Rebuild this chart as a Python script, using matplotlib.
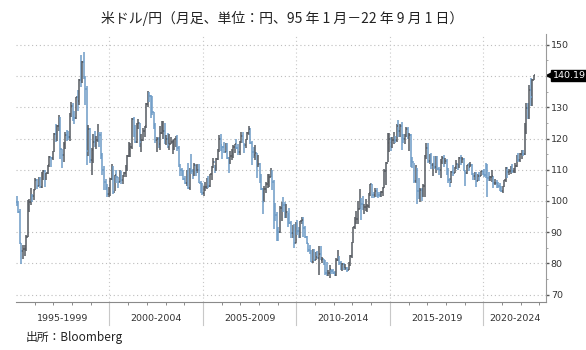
import numpy as np
import matplotlib
matplotlib.use("Agg")
from matplotlib import pyplot as plt
from matplotlib.ticker import MultipleLocator, FixedLocator, NullFormatter, FuncFormatter
import matplotlib.transforms as mtransforms

plt.rcParams['font.family'] = ['Noto Sans CJK JP', 'DejaVu Sans']

# monthly USD/JPY, Jan 1995 - Sep 2022 (close / high / low per year)
close = [
    [99.6, 96.6, 86.6, 84.1, 84.5, 84.7, 88.4, 97.5, 99.6, 101.9, 101.6, 103.5],
    [106.8, 104.8, 107.3, 104.5, 108.6, 109.7, 106.9, 108.9, 111.4, 114.0, 113.7, 115.9],
    [121.3, 120.2, 124.1, 127.0, 116.5, 114.6, 118.2, 121.0, 120.7, 120.4, 127.9, 130.5],
    [127.0, 126.5, 133.3, 132.1, 138.8, 138.4, 144.5, 141.4, 135.9, 116.0, 123.2, 113.1],
    [116.4, 119.0, 118.8, 119.5, 121.6, 121.1, 114.6, 110.0, 106.0, 104.1, 102.1, 102.2],
    [107.1, 110.2, 102.9, 108.2, 107.6, 106.2, 109.6, 106.7, 108.1, 108.9, 110.5, 114.4],
    [116.5, 117.3, 126.1, 123.7, 118.9, 124.7, 125.0, 118.8, 119.4, 122.4, 123.9, 131.0],
    [134.7, 133.5, 132.7, 128.5, 124.2, 119.5, 120.0, 118.3, 121.8, 122.4, 122.5, 118.8],
    [120.0, 117.8, 118.1, 119.0, 119.3, 119.7, 120.6, 116.9, 111.4, 110.0, 109.6, 107.1],
    [105.9, 109.1, 104.2, 110.4, 109.6, 108.7, 111.4, 109.2, 110.0, 105.9, 103.1, 102.6],
    [103.6, 104.6, 107.1, 104.9, 108.5, 110.8, 112.4, 111.2, 113.5, 116.4, 119.8, 117.8],
    [117.2, 115.8, 117.8, 113.9, 112.6, 114.4, 114.6, 117.4, 118.1, 116.9, 115.8, 119.0],
    [120.7, 118.5, 117.8, 119.6, 121.7, 123.2, 118.6, 115.8, 114.8, 115.3, 111.2, 111.7],
    [106.4, 103.7, 99.7, 103.9, 105.5, 106.2, 107.8, 108.8, 106.0, 98.5, 95.5, 90.6],
    [89.9, 97.6, 98.9, 98.6, 95.3, 96.4, 94.7, 93.0, 89.7, 90.1, 86.4, 93.1],
    [90.3, 89.0, 93.5, 94.0, 91.3, 88.4, 86.5, 84.2, 83.5, 80.4, 83.7, 81.1],
    [82.1, 81.8, 83.1, 81.2, 81.5, 80.6, 77.0, 76.6, 77.0, 78.2, 77.6, 76.9],
    [76.3, 81.2, 82.9, 80.0, 78.4, 79.8, 78.1, 78.4, 77.9, 79.8, 82.5, 86.7],
    [91.7, 92.6, 94.2, 97.5, 100.5, 99.1, 97.9, 98.2, 98.3, 98.4, 102.4, 105.3],
    [102.0, 101.8, 103.2, 102.2, 101.8, 101.3, 102.8, 104.1, 109.7, 112.3, 118.6, 119.8],
    [117.5, 119.6, 120.1, 119.4, 124.1, 122.5, 123.9, 121.2, 119.9, 120.6, 123.1, 120.2],
    [121.1, 112.7, 112.6, 106.5, 110.7, 103.2, 102.1, 103.4, 101.4, 104.8, 114.5, 117.0],
    [112.8, 112.8, 111.4, 111.5, 110.8, 112.4, 110.3, 110.0, 112.5, 113.7, 112.5, 112.7],
    [109.2, 106.7, 106.3, 109.3, 108.8, 110.8, 111.9, 111.0, 113.7, 112.9, 113.5, 109.7],
    [108.9, 111.4, 110.9, 111.4, 108.3, 107.9, 108.8, 106.3, 108.1, 108.0, 109.5, 108.6],
    [108.4, 107.9, 107.5, 107.2, 107.8, 107.9, 105.9, 105.9, 105.5, 104.7, 104.3, 103.3],
    [104.7, 106.6, 110.7, 109.3, 109.6, 111.1, 109.7, 110.0, 111.3, 114.0, 113.2, 115.1],
    [115.1, 115.0, 121.7, 129.8, 128.7, 135.7, 133.3, 138.9, 140.19],
]
high = [
    [101.5, 100.0, 97.3, 86.4, 85.8, 86.0, 89.2, 100.3, 100.5, 104.2, 102.3, 103.7],
    [107.2, 107.0, 107.6, 107.7, 109.2, 109.9, 110.0, 109.0, 111.6, 114.5, 114.1, 116.1],
    [121.8, 124.6, 124.3, 127.5, 126.9, 116.5, 119.0, 122.0, 122.6, 122.3, 128.1, 131.8],
    [131.5, 128.8, 133.3, 135.4, 139.0, 146.8, 144.8, 147.6, 139.9, 136.8, 124.3, 123.5],
    [116.8, 121.5, 122.5, 120.9, 124.8, 122.2, 122.2, 115.2, 111.1, 107.0, 105.4, 104.5],
    [107.3, 111.8, 111.1, 108.3, 109.8, 107.7, 109.8, 109.7, 108.3, 109.2, 111.4, 114.8],
    [119.0, 118.4, 126.5, 126.8, 124.2, 125.0, 126.2, 125.0, 121.6, 123.3, 124.1, 131.4],
    [135.2, 134.8, 133.9, 133.5, 128.6, 124.9, 120.4, 120.6, 124.0, 125.6, 125.5, 125.0],
    [121.0, 121.8, 121.4, 120.6, 119.5, 120.0, 120.7, 121.2, 117.5, 111.7, 110.5, 109.9],
    [107.9, 109.8, 112.1, 110.4, 114.9, 110.2, 112.0, 111.4, 111.7, 111.7, 106.3, 105.7],
    [104.8, 106.0, 107.5, 108.0, 108.6, 111.2, 113.7, 111.6, 113.7, 116.5, 121.0, 121.4],
    [117.6, 119.0, 118.7, 118.6, 114.0, 116.1, 116.5, 117.8, 118.2, 119.9, 118.2, 119.2],
    [122.2, 122.2, 118.5, 120.0, 122.2, 124.1, 123.5, 119.2, 117.3, 117.9, 115.5, 114.7],
    [112.0, 108.5, 104.3, 104.9, 106.1, 108.6, 108.6, 110.7, 109.9, 106.6, 99.2, 96.4],
    [91.7, 98.3, 99.5, 101.4, 99.5, 98.9, 96.1, 97.8, 93.6, 92.3, 92.7, 93.1],
    [93.8, 91.8, 93.7, 94.8, 94.9, 92.1, 88.8, 86.6, 86.0, 84.2, 84.5, 84.5],
    [83.7, 83.9, 85.5, 85.5, 82.0, 81.4, 81.0, 80.3, 77.9, 79.5, 78.3, 78.3],
    [77.6, 81.7, 84.2, 82.3, 80.6, 80.2, 80.1, 79.7, 78.7, 80.4, 82.8, 86.8],
    [91.8, 94.8, 96.7, 99.9, 103.7, 100.9, 101.5, 99.1, 100.6, 99.0, 102.6, 105.4],
    [105.4, 102.9, 104.1, 104.1, 102.8, 102.8, 103.2, 104.5, 110.1, 112.5, 121.9, 121.9],
    [120.5, 120.5, 122.0, 120.8, 124.5, 125.9, 124.6, 125.3, 121.3, 121.5, 123.8, 123.7],
    [121.7, 121.5, 114.1, 112.0, 111.5, 110.5, 107.5, 104.3, 104.1, 105.5, 114.8, 118.7],
    [118.6, 114.9, 115.5, 112.2, 114.4, 114.5, 114.5, 110.9, 113.3, 114.5, 114.7, 113.8],
    [113.4, 110.5, 107.3, 109.5, 111.4, 111.0, 113.2, 111.8, 114.0, 114.6, 114.0, 113.7],
    [109.9, 111.5, 112.1, 112.4, 111.7, 108.8, 109.3, 109.3, 108.5, 109.3, 109.7, 109.7],
    [110.3, 112.2, 111.7, 109.4, 108.1, 109.9, 107.9, 107.0, 106.6, 106.1, 105.7, 104.7],
    [104.9, 106.7, 110.9, 110.9, 110.2, 111.1, 111.7, 110.5, 112.1, 114.7, 115.5, 115.2],
    [116.4, 116.3, 125.1, 131.3, 131.3, 137.0, 139.4, 139.1, 140.2],
]
low = [
    [98.5, 96.1, 86.3, 79.8, 81.3, 82.3, 84.0, 88.3, 96.6, 98.6, 99.6, 100.4],
    [103.5, 103.8, 104.7, 104.1, 104.0, 106.8, 104.6, 106.8, 108.6, 110.9, 110.9, 113.0],
    [115.8, 119.0, 119.3, 122.4, 113.3, 110.6, 112.6, 116.5, 119.2, 119.5, 119.3, 126.9],
    [125.6, 124.8, 126.3, 128.9, 130.8, 136.5, 137.7, 139.0, 130.7, 111.6, 114.4, 112.2],
    [108.3, 112.3, 117.3, 116.6, 118.8, 117.3, 113.5, 108.3, 103.6, 103.4, 101.3, 101.3],
    [101.6, 106.8, 102.1, 103.2, 105.9, 104.0, 106.1, 105.5, 105.3, 107.6, 107.7, 109.7],
    [114.0, 114.0, 116.6, 120.4, 118.5, 118.4, 123.2, 117.4, 115.8, 119.2, 120.4, 123.5],
    [130.1, 131.8, 126.6, 127.6, 123.1, 118.5, 115.6, 116.8, 116.3, 121.3, 119.8, 118.3],
    [117.8, 116.8, 116.4, 118.1, 115.0, 116.3, 117.4, 116.1, 110.9, 107.9, 107.9, 106.8],
    [105.4, 104.8, 103.8, 103.4, 108.6, 106.9, 108.0, 108.1, 109.0, 105.7, 102.5, 101.8],
    [101.7, 103.1, 103.7, 104.2, 104.5, 106.6, 110.5, 108.8, 109.6, 113.0, 115.8, 115.9],
    [113.4, 115.3, 115.8, 113.3, 108.9, 111.7, 113.1, 113.7, 115.4, 116.7, 114.8, 114.7],
    [118.6, 118.4, 115.2, 117.0, 119.4, 121.2, 118.3, 111.6, 113.7, 113.2, 107.2, 110.9],
    [105.6, 103.4, 95.8, 99.7, 102.6, 104.0, 104.4, 107.7, 103.5, 90.9, 93.6, 87.2],
    [87.1, 89.7, 93.6, 96.5, 94.5, 94.4, 91.7, 92.6, 88.2, 88.0, 84.8, 86.4],
    [89.2, 88.2, 88.2, 92.7, 88.6, 88.2, 86.3, 83.6, 82.9, 80.4, 80.2, 80.8],
    [81.0, 81.6, 76.3, 81.0, 80.2, 79.6, 76.3, 75.9, 75.9, 75.4, 76.6, 76.6],
    [76.1, 76.1, 80.9, 79.6, 78.0, 77.7, 77.9, 78.0, 77.1, 77.9, 79.1, 81.7],
    [86.5, 90.9, 92.6, 92.6, 97.3, 93.8, 97.2, 95.8, 96.9, 96.6, 97.6, 101.6],
    [100.8, 100.8, 101.2, 101.4, 100.8, 101.1, 101.1, 101.5, 104.0, 105.2, 112.4, 115.6],
    [115.9, 116.9, 118.3, 118.5, 118.9, 120.4, 120.4, 116.2, 118.6, 118.1, 120.6, 119.9],
    [115.9, 110.9, 110.7, 105.6, 105.6, 99.0, 100.7, 99.5, 100.1, 101.2, 101.2, 113.5],
    [112.1, 111.7, 110.1, 108.1, 110.2, 108.8, 110.0, 108.3, 107.3, 111.7, 110.8, 111.9],
    [108.3, 105.6, 104.6, 105.9, 108.1, 108.8, 110.3, 109.8, 110.4, 111.4, 112.3, 109.6],
    [104.9, 108.5, 109.7, 110.8, 108.3, 106.8, 106.8, 104.5, 106.5, 106.5, 107.9, 108.4],
    [107.7, 107.5, 101.2, 106.4, 106.3, 106.1, 104.2, 105.1, 104.0, 104.0, 103.2, 102.9],
    [102.6, 104.4, 106.0, 107.5, 108.3, 108.6, 109.1, 109.1, 109.1, 110.8, 112.5, 112.6],
    [113.5, 114.4, 114.7, 121.3, 126.4, 126.4, 130.4, 130.4, 138.9],
]
first_open = 99.7
period_labels = ['1995-1999', '2000-2004', '2005-2009', '2010-2014', '2015-2019', '2020-2024']
period_starts = [1995, 2000, 2005, 2010, 2015, 2020]

c = np.concatenate([np.array(r) for r in close])
h = np.concatenate([np.array(r) for r in high])
l = np.concatenate([np.array(r) for r in low])
o = np.concatenate([[first_open], c[:-1]])
t = 1995 + (np.arange(len(c)) + 0.5) / 12

xmin, xmax = 1995.0, 2023.35

fig = plt.figure(figsize=(5.86, 3.5), dpi=100)
ax = fig.add_axes([0.0273, 0.137, 0.9044, 0.766])

up = c >= o
cols = np.where(up, '#555a60', '#6d9bc6')
ax.vlines(t, l, h, colors=cols, lw=1.1)
w = 0.035
ax.hlines(o, t - w, t, colors=cols, lw=1.1)
ax.hlines(c, t, t + w, colors=cols, lw=1.1)

ax.set_xlim(xmin, xmax)
ax.set_ylim(67.6, 153.5)

# grid
for y in range(70, 151, 10):
    ax.axhline(y, color='#bdbdbd', lw=0.8, ls=(0, (1, 2.5)), zorder=0)
for x in period_starts[1:]:
    ax.axvline(x, color='#c8c8c8', lw=0.8, ls=(0, (1, 2.5)), zorder=0)

for s in ['top', 'left']:
    ax.spines[s].set_visible(False)
ax.spines['bottom'].set_color('#8a8a8a')
ax.spines['right'].set_color('#9a9a9a')

last = c[-1]

# right axis; the last-value tag sits where the 140 label would be
ax.yaxis.tick_right()
ax.yaxis.set_major_locator(MultipleLocator(10))
ax.yaxis.set_minor_locator(MultipleLocator(5))
ax.yaxis.set_major_formatter(FuncFormatter(lambda v, p: '' if abs(v - last) < 3 else f'{v:.0f}'))
ax.tick_params(axis='y', which='major', length=2.5, width=1.0, color='#555',
               labelsize=6.8, labelcolor='#333', pad=1)
ax.tick_params(axis='y', which='minor', length=1.5, width=0.6, color='#999')
for lab in ax.get_yticklabels():
    lab.set_family('DejaVu Sans')

# bottom axis: a small tick each year, period labels below
ax.xaxis.set_major_locator(FixedLocator([]))
ax.xaxis.set_minor_locator(FixedLocator(range(1996, 2024)))
ax.xaxis.set_minor_formatter(NullFormatter())
ax.tick_params(axis='x', which='minor', length=2, width=0.6, color='#777', direction='out')

trans = mtransforms.blended_transform_factory(ax.transData, ax.transAxes)
for x in period_starts[1:]:
    ax.plot([x, x], [0, -0.085], transform=trans, color='#c8c8c8', lw=0.8, clip_on=False)
bounds = period_starts + [xmax]
for i, lab in enumerate(period_labels):
    mid = (bounds[i] + bounds[i + 1]) / 2
    ax.text(mid, -0.063, lab, transform=trans, ha='center', va='center',
            fontsize=6.8, color='#333', family='DejaVu Sans')

# last value tag
tagtr = mtransforms.blended_transform_factory(ax.transAxes, ax.transData)
ax.plot([1.006], [last], transform=tagtr, marker='<', ms=5, color='black', clip_on=False)
ax.text(1.013, last, f'{last:.2f}', transform=tagtr,
        ha='left', va='center', fontsize=6.8, color='white', family='DejaVu Sans',
        bbox=dict(boxstyle='square,pad=0.15', fc='black', ec='black'))

fig.text(0.482, 0.948, '米ドル/円（月足、単位：円、95 年 1 月－22 年 9 月 1 日）',
         ha='center', va='center', fontsize=10, color='#222')
fig.text(0.043, 0.035, '出所：Bloomberg', ha='left', va='center', fontsize=8.5, color='#222')

plt.savefig('out.png', dpi=100)
plt.close()
